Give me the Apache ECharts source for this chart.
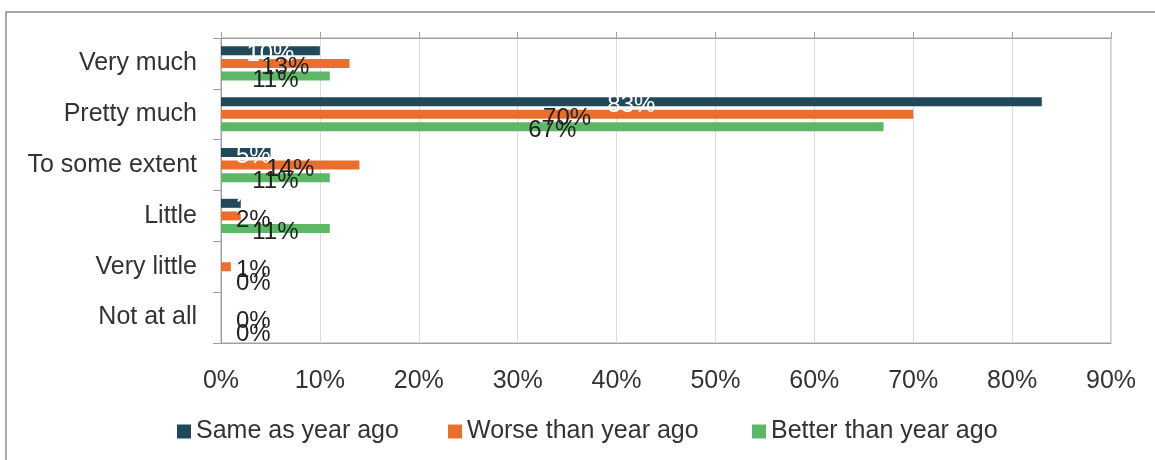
<!DOCTYPE html>
<html>
<head>
<meta charset="utf-8">
<script src="https://cdn.jsdelivr.net/npm/echarts@6/dist/echarts.min.js"></script>
<style>
html,body{margin:0;padding:0;background:#fff;}
#chart{width:1155px;height:460px;}
</style>
</head>
<body>
<div id="chart"></div>
<script>
const categories = ['Very much', 'Pretty much', 'To some extent', 'Little', 'Very little', 'Not at all'];
const seriesNames = ['Same as year ago', 'Worse than year ago', 'Better than year ago'];
const sameValues = [10, 83, 5, 2, 0, 0];
const worseValues = [13, 70, 14, 2, 1, 0];
const betterValues = [11, 67, 11, 11, 0, 0];
const xTicks = [0, 10, 20, 30, 40, 50, 60, 70, 80, 90];

const colors = ['#21495A', '#EA6F2C', '#5DB766'];
const labelColors = ['#FFFFFF', '#222222', '#222222'];
const FONT = 'Liberation Sans, Arial, sans-serif';

function makeData(values, idx) {
  return values.map(v => ({
    value: v,
    label: v < 7
      ? { position: 'insideLeft', distance: 15 }
      : { position: 'inside' }
  }));
}

function makeSeries(name, values, idx) {
  return {
    name: name,
    type: 'bar',
    xAxisIndex: 0,
    yAxisIndex: 0,
    barWidth: 9,
    barGap: '40%',
    itemStyle: { color: colors[idx] },
    label: {
      show: true,
      formatter: p => p.value + '%',
      color: labelColors[idx],
      fontFamily: FONT,
      fontSize: 24,
      offset: [0, 4]
    },
    emphasis: { disabled: true },
    data: makeData(values, idx)
  };
}

const chart = echarts.init(document.getElementById('chart'), null, { renderer: 'canvas' });
const legendBase = {
  orient: 'horizontal',
  top: 419,
  padding: 0,
  itemWidth: 14,
  itemHeight: 14,
  itemGap: 0,
  icon: 'rect',
  textStyle: { fontFamily: FONT, fontSize: 25, color: '#333333' }
};
chart.setOption({
  animation: false,
  backgroundColor: '#ffffff',
  graphic: [{
    type: 'rect',
    shape: { x: 6, y: 12, width: 1170, height: 470 },
    style: { fill: 'none', stroke: '#8C8C8C', lineWidth: 1.5 },
    silent: true
  }],
  grid: {
    left: 221, right: 44, top: 38, bottom: 117,
    show: true, borderColor: '#A0A0A0', borderWidth: 1, backgroundColor: 'transparent'
  },
  legend: [
    Object.assign({}, legendBase, { left: 177, data: [seriesNames[0]] }),
    Object.assign({}, legendBase, { left: 448, data: [seriesNames[1]] }),
    Object.assign({}, legendBase, { left: 752, data: [seriesNames[2]] })
  ],
  xAxis: [{
    type: 'value',
    position: 'top',
    min: xTicks[0], max: xTicks[xTicks.length - 1], interval: 10,
    axisLine: { show: true, lineStyle: { color: '#A0A0A0', width: 1 } },
    axisTick: { show: true, inside: false, length: 6, lineStyle: { color: '#A0A0A0' } },
    axisLabel: { show: false },
    splitLine: { show: true, lineStyle: { color: '#DCDCDC', width: 1 } }
  }, {
    type: 'value',
    position: 'bottom',
    min: xTicks[0], max: xTicks[xTicks.length - 1], interval: 10,
    axisLine: { show: true, onZero: false, lineStyle: { color: '#A0A0A0', width: 1 } },
    axisTick: { show: false },
    splitLine: { show: false },
    axisLabel: {
      show: true, margin: 26,
      formatter: v => v + '%',
      fontFamily: FONT, fontSize: 25, color: '#333333'
    }
  }],
  yAxis: [{
    type: 'category',
    inverse: true,
    data: categories,
    axisLine: { show: true, lineStyle: { color: '#A0A0A0', width: 1 } },
    axisTick: { show: true, length: 8, lineStyle: { color: '#A0A0A0' } },
    axisLabel: { margin: 24, fontFamily: FONT, fontSize: 25, color: '#333333' },
    splitLine: { show: false }
  }],
  series: [
    makeSeries(seriesNames[0], sameValues, 0),
    makeSeries(seriesNames[1], worseValues, 1),
    makeSeries(seriesNames[2], betterValues, 2)
  ]
});
</script>
</body>
</html>
